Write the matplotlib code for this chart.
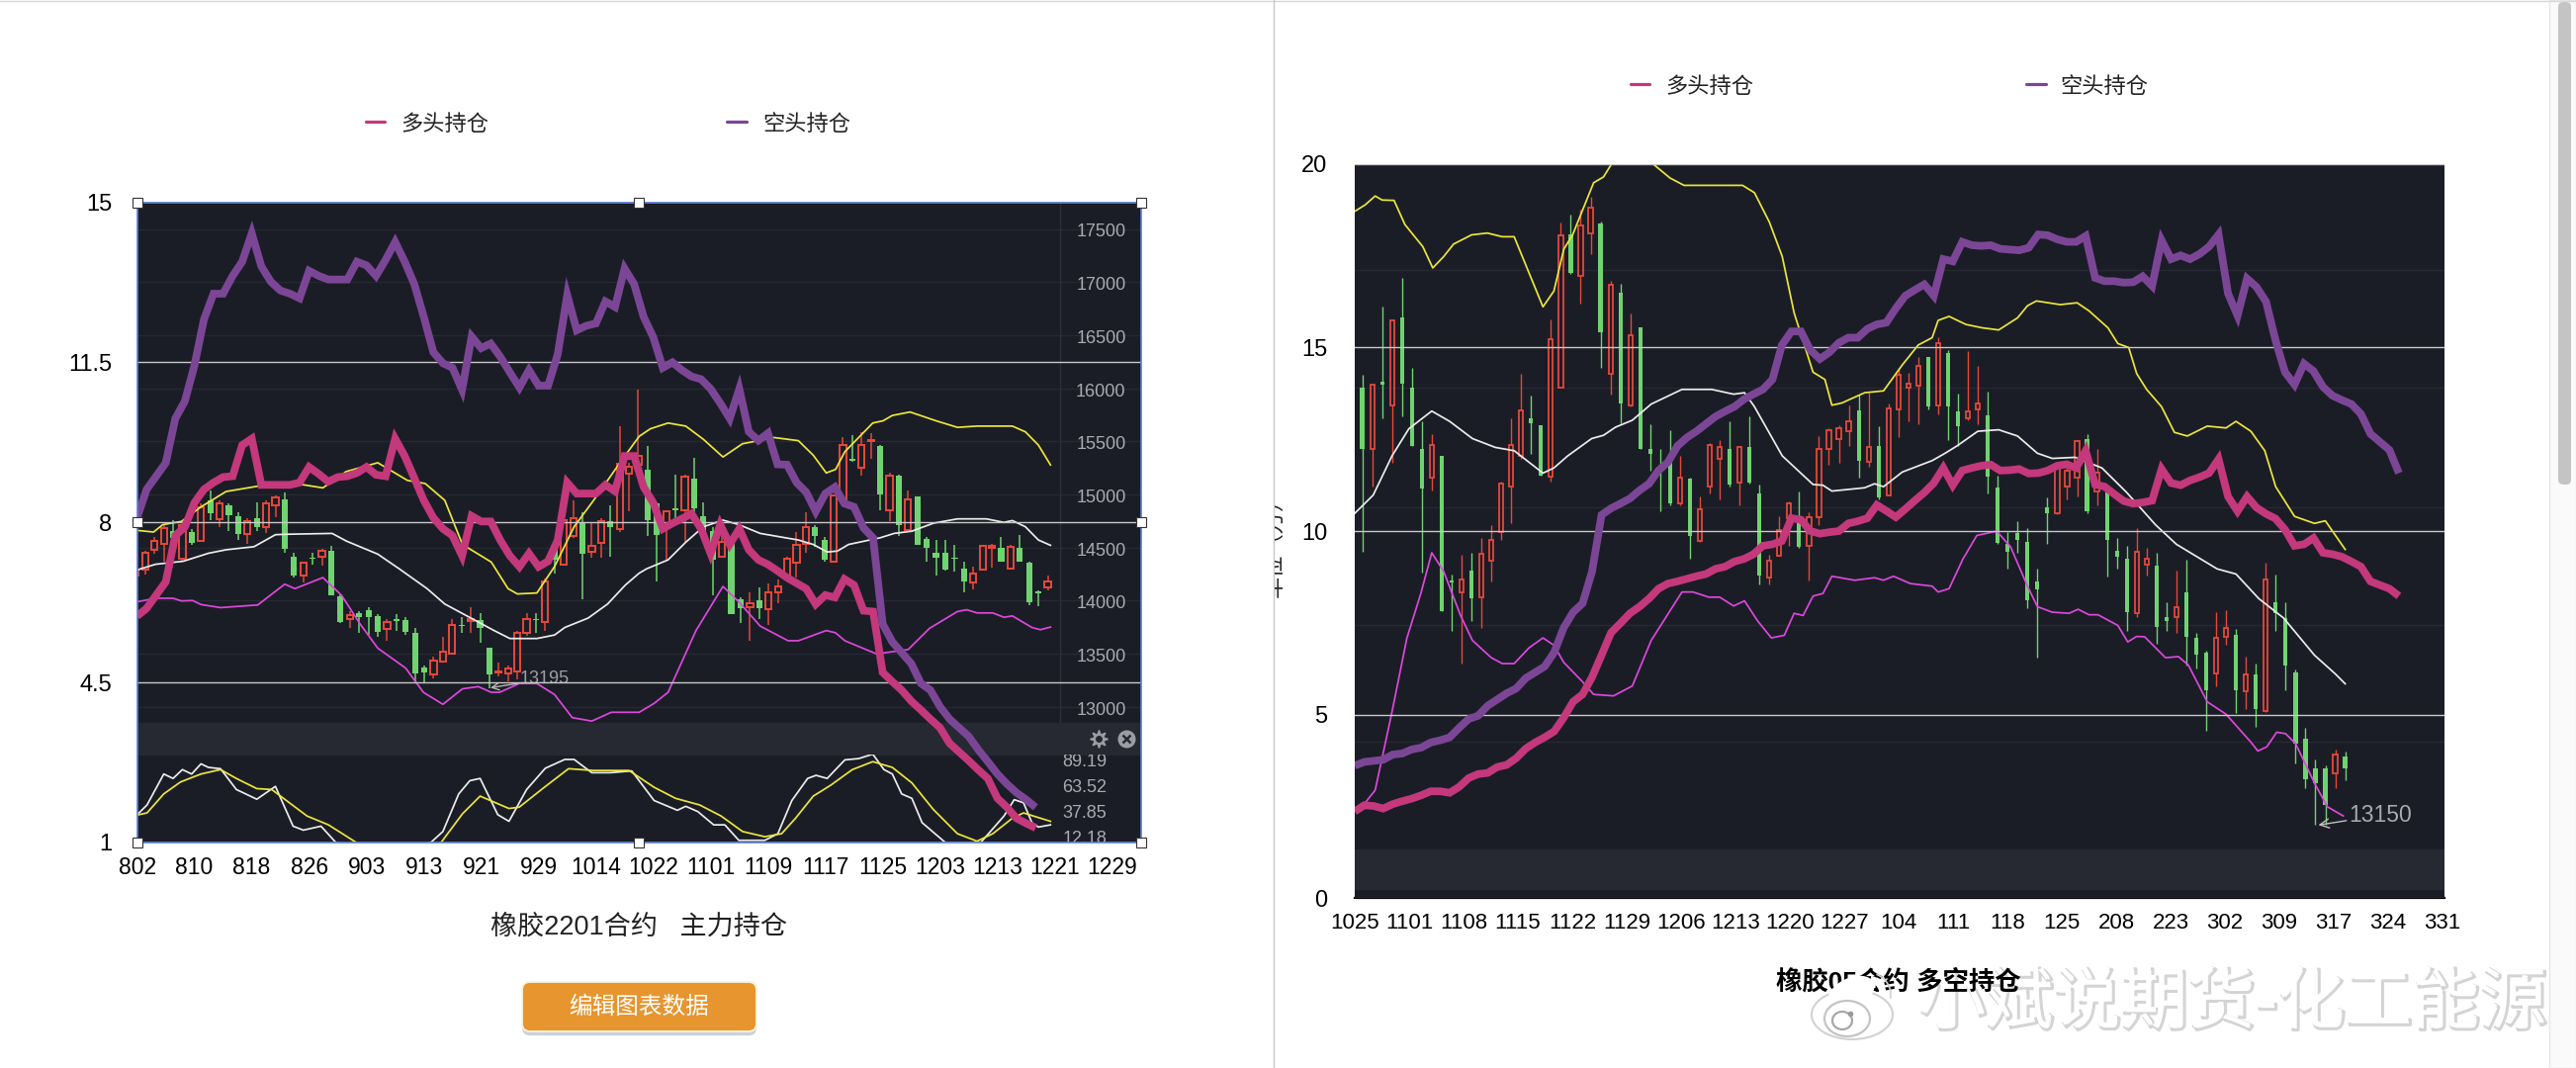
import numpy as np
import matplotlib
matplotlib.use("Agg")
import matplotlib.pyplot as plt
from matplotlib.patches import Arc, Ellipse, FancyBboxPatch, Rectangle
import matplotlib.patheffects as pe

plt.rcParams['font.family'] = ['Liberation Sans', 'Noto Sans CJK SC', 'DejaVu Sans']

W, H = 2605, 1080

# left chart: position lines (10k lots), one point per day
left_labels = ["802", "810", "818", "826", "903", "913", "921", "929", "1014", "1022",
               "1101", "1109", "1117", "1125", "1203", "1213", "1221", "1229"]
left_short = [8.10, 8.72, 9.01, 9.30, 10.27, 10.65, 11.43, 12.44, 13.00, 13.00, 13.39, 13.70, 14.32, 13.60, 13.26, 13.07,
              13.00, 12.90, 13.50, 13.39, 13.31, 13.31, 13.31, 13.70, 13.62, 13.39, 13.74, 14.13, 13.70, 13.21, 12.49, 11.72,
              11.48, 11.38, 10.90, 12.06, 11.81, 11.91, 11.62, 11.28, 10.95, 11.33, 10.99, 10.99, 11.67, 12.97, 12.20, 12.30,
              12.35, 12.83, 12.71, 13.55, 13.21, 12.49, 12.05, 11.38, 11.50, 11.33, 11.19, 11.13, 10.92, 10.61, 10.27, 10.92,
              9.98, 9.79, 9.95, 9.27, 9.26, 8.87, 8.66, 8.24, 8.63, 8.77, 8.41, 8.34, 7.88, 7.66, 5.78, 5.39, 5.15, 4.91,
              4.48, 4.33, 3.97, 3.70, 3.51, 3.32, 3.03, 2.77, 2.50, 2.28, 2.09, 1.94, 1.77]
left_long = [5.95, 6.12, 6.41, 6.70, 7.71, 7.90, 8.43, 8.72, 8.87, 8.99, 9.01, 9.69, 9.83, 8.82, 8.82, 8.82, 8.82, 8.87,
             9.21, 9.06, 8.89, 8.99, 9.01, 9.08, 9.21, 9.04, 9.01, 9.83, 9.45, 8.97, 8.48, 8.10, 7.86, 7.71, 7.27, 8.14,
             8.02, 8.02, 7.61, 7.27, 7.03, 7.32, 7.03, 7.15, 7.61, 8.87, 8.63, 8.63, 8.63, 8.82, 8.68, 9.45, 9.45, 8.77,
             8.43, 7.86, 7.98, 8.08, 8.19, 7.86, 7.32, 7.95, 7.52, 7.86, 7.40, 7.18, 7.08, 6.94, 6.79, 6.67, 6.55, 6.21,
             6.41, 6.36, 6.76, 6.63, 6.07, 6.05, 4.72, 4.52, 4.33, 4.09, 3.90, 3.70, 3.51, 3.17, 2.98, 2.79, 2.59, 2.40,
             1.97, 1.77, 1.53, 1.42, 1.32]

# left chart: candles behind the lines, in price
left_open = [14239, 14289, 14480, 14539, 14655, 14397, 14647, 14559, 14946, 14767, 14896, 14792, 14630, 14780, 14697, 14896,
             14959, 14418, 14239, 14405, 14414, 14468, 14043, 13831, 13885, 13915, 13852, 13736, 13823, 13819, 13698, 13374,
             13303, 13428, 13499, 13773, 13810, 13815, 13553, 13320, 13315, 13332, 13698, 13831, 13802, 14497, 14343, 14613,
             14730, 14459, 14547, 14747, 14676, 15196, 15279, 15237, 14913, 14697, 14871, 14855, 15154, 14792, 14655, 14414,
             14593, 14010, 13939, 14006, 13919, 14081, 14218, 14355, 14539, 14697, 14572, 14372, 14946, 15341, 15250, 15504,
             15454, 14855, 15175, 14663, 14979, 14580, 14455, 14447, 14405, 14306, 14168, 14293, 14497, 14497, 14301, 14497,
             14355, 14085, 14127]
left_close = [14289, 14455, 14563, 14688, 14593, 14713, 14547, 14884, 14821, 14913, 14809, 14630, 14747, 14697, 14917, 14975,
              14489, 14239, 14355, 14393, 14468, 14052, 13802, 13865, 13844, 13844, 13706, 13798, 13806, 13706, 13315, 13324,
              13436, 13523, 13773, 13761, 13831, 13748, 13303, 13332, 13357, 13698, 13831, 13819, 14177, 14385, 14759, 14780,
              14439, 14518, 14747, 14697, 15287, 15258, 15362, 14759, 14622, 14842, 14855, 15167, 14871, 14655, 14385, 14551,
              13873, 13927, 13977, 13927, 14081, 14135, 14393, 14530, 14697, 14613, 14385, 14988, 15466, 15321, 15466, 15516,
              15004, 15175, 14717, 14959, 14522, 14497, 14405, 14289, 14393, 14177, 14260, 14518, 14514, 14372, 14509, 14372,
              13989, 14073, 14181]
left_high = [14322, 14468, 14605, 14713, 14759, 14726, 14676, 14913, 15038, 14946, 14913, 14838, 14780, 14925, 14946, 14988,
             15017, 14455, 14372, 14455, 14489, 14518, 14064, 13898, 13898, 13939, 13873, 13823, 13873, 13844, 13748, 13390,
             13469, 13657, 13831, 13844, 13939, 13885, 13553, 13415, 13386, 13719, 13885, 13885, 14206, 14530, 14780, 14946,
             14834, 14730, 14780, 14896, 15645, 15300, 15986, 15454, 14925, 14842, 15187, 15187, 15350, 14925, 14697, 14738,
             14613, 14031, 14081, 14122, 14164, 14197, 14414, 14647, 14834, 14717, 14605, 14996, 15537, 15562, 15591, 15579,
             15466, 15204, 15187, 15042, 14979, 14605, 14572, 14572, 14522, 14364, 14322, 14530, 14539, 14605, 14522, 14622,
             14364, 14093, 14239]
left_low = [14189, 14247, 14439, 14372, 14530, 14380, 14530, 14551, 14759, 14697, 14655, 14572, 14539, 14655, 14634, 14788,
            14447, 14222, 14172, 14343, 14331, 14052, 13790, 13748, 13698, 13677, 13657, 13623, 13719, 13682, 13241, 13220,
            13270, 13415, 13490, 13698, 13698, 13607, 13178, 13291, 13241, 13261, 13665, 13698, 13719, 14260, 14331, 14593,
            14010, 14405, 14405, 14414, 14647, 14842, 15279, 14613, 14177, 14385, 14780, 14551, 14821, 14634, 14052, 14405,
            13873, 13790, 13627, 13831, 13773, 13981, 14218, 14218, 14455, 14509, 14372, 14364, 14938, 15312, 15175, 15341,
            14855, 14747, 14613, 14655, 14522, 14372, 14239, 14281, 14272, 14081, 14106, 14289, 14310, 14364, 14289, 14364,
            13956, 13948, 14102]

# left chart: bands on the candles, given at selected candles
left_upper_x = [0.1, 1.9, 2.9, 4.9, 7, 9.7, 13.1, 16.5, 20.1, 22.6, 26, 29.2, 31.1, 33.2, 35.1, 38.2, 40, 41, 43.1, 45, 47.1, 49.2,
                52.2, 54.1, 55.3, 57.2, 59.1, 61, 63.1, 65.2, 68.6, 71.2, 72.8, 74.2, 75.2, 76.2, 79.2, 80.3, 81.3, 83.2, 86,
                88.3, 90.4, 94.2, 95.6, 97, 98.3]
left_upper = [14663, 14647, 14717, 14747, 14884, 15029, 15079, 15113, 15063, 15217, 15300, 15133, 15104, 14946, 14530, 14364,
              14114, 14064, 14073, 14322, 14697, 14946, 15321, 15549, 15620, 15674, 15645, 15520, 15354, 15479, 15537, 15508,
              15371, 15204, 15237, 15404, 15674, 15695, 15745, 15778, 15695, 15633, 15645, 15645, 15591, 15466, 15279]
left_mid_x = [0.1, 2.1, 5.1, 7.8, 9.7, 12.7, 15, 16.1, 21.1, 22.6, 26, 28.3, 31.3, 33.2, 36.3, 38.5, 40.2, 43.1, 45, 46.1, 48.6,
              50.7, 52.6, 54.1, 54.9, 57.2, 59.1, 61, 63.1, 64.8, 67.1, 71.2, 72.8, 74.3, 75.4, 76.6, 80, 81.5, 83.4, 85.7,
              88.3, 91.4, 93.3, 94.2, 95.6, 97, 98.3]
left_mid = [14289, 14343, 14372, 14447, 14480, 14509, 14622, 14626, 14634, 14563, 14439, 14301, 14114, 13969, 13823, 13719,
            13644, 13644, 13677, 13748, 13836, 13969, 14147, 14260, 14301, 14385, 14551, 14697, 14759, 14717, 14634, 14572,
            14530, 14459, 14468, 14530, 14593, 14634, 14655, 14730, 14771, 14771, 14738, 14755, 14697, 14572, 14522]
left_lower_x = [0.1, 2.1, 4, 4.9, 6.1, 7, 9.1, 13.1, 16, 17.1, 20.1, 22.1, 24.1, 26, 29, 30.9, 33, 35.1, 36.8, 38.2, 39.1, 41.2,
                43.1, 45, 46.9, 49, 51.1, 54.1, 55.7, 57.2, 60.2, 63.1, 64.8, 67.1, 70.1, 71.2, 74.2, 75.2, 76.2, 79.6, 83,
                85.3, 88.3, 89.3, 90.4, 92.1, 93.3, 94.2, 96.3, 97.2, 98.3]
left_lower = [13989, 14023, 14023, 13998, 14002, 13964, 13935, 13960, 14156, 14114, 14218, 14052, 13781, 13553, 13365, 13137,
              13024, 13170, 13191, 13137, 13137, 13220, 13220, 13116, 12899, 12866, 12949, 12949, 13033, 13137, 13719, 14135,
              13989, 13761, 13623, 13623, 13719, 13698, 13623, 13499, 13540, 13740, 13898, 13915, 13885, 13885, 13844, 13857,
              13748, 13727, 13752]
price_ticks = [17500, 17000, 16500, 16000, 15500, 15000, 14500, 14000, 13500, 13000]

# left chart: the small oscillator pane
kdj_k_x = [0.1, 1.2, 3, 4, 5, 6, 7, 7.8, 9.1, 10.8, 13, 15, 16.9, 18, 19.9, 21.5, 26.6, 31.7, 33, 34.7, 35.9, 37, 38.9, 40.1, 42,
           44, 46.1, 47.1, 49, 51, 53.3, 55.7, 58.2, 59.1, 60.4, 62.1, 63.3, 64.8, 67.6, 69, 70.5, 72.2, 73.1, 74.3, 76.2,
           77.7, 79.2, 80.4, 81.3, 82.3, 83.4, 84.5, 87, 90.8, 93.3, 94.4, 95.4, 96.3, 97, 98.3]
kdj_k = [35.95, 46.07, 76.87, 72.47, 81.27, 76.87, 87, 83.47, 82.15, 61.47, 51.79, 64.55, 24.95, 21, 24.95, 8.67, 0, 8.67, 19.67,
         57.07, 70.27, 72.47, 36.39, 29.79, 61.47, 82.59, 91.39, 91.39, 78.19, 78.19, 79.95, 50.47, 40.79, 44.75, 39.47,
         26.27, 26.27, 10.87, 10.87, 17.47, 50.47, 72.47, 75.55, 72.47, 90.95, 92.27, 96.67, 81.27, 76.87, 57.07, 52.67,
         28.47, 8.67, 8.67, 35.07, 51.35, 48.27, 28.47, 24.07, 26.27]
kdj_d_x = [0.1, 1.2, 3, 4.8, 7, 9.1, 10.8, 13, 14.6, 16.5, 18.4, 20.7, 23.7, 28, 32.8, 35.1, 37, 40.1, 41.2, 43.9, 46.5, 49.2, 53,
           55.7, 58, 60.6, 62.9, 65.2, 67.6, 69.4, 70.9, 72.8, 74.7, 77, 79.2, 81.3, 83.4, 85.7, 88.3, 90.4, 92.1, 94.2, 95.4, 98.3]
kdj_d = [35.95, 38.15, 57.07, 68.95, 76.87, 81.27, 72.47, 62.35, 61.47, 48.27, 35.07, 26.27, 8.67, 0, 8.67, 37.27, 54.87, 42.55,
         43.87, 63.67, 82.15, 80.39, 80.39, 63.67, 52.67, 46.07, 35.07, 19.67, 14.47, 17.47, 32.87, 54.87, 65.87, 81.27,
         89.19, 83.47, 68.07, 41.67, 17.47, 10, 17.47, 32.87, 38.15, 29.79]
kdj_labels = [89.19, 63.52, 37.85, 12.18]

# right chart: position lines (10k lots)
right_labels = ["1025", "1101", "1108", "1115", "1122", "1129", "1206", "1213", "1220", "1227", "104",
                "111", "118", "125", "208", "223", "302", "309", "317", "324", "331"]
right_short = [3.61, 3.71, 3.74, 3.77, 3.91, 3.94, 4.05, 4.10, 4.24, 4.30, 4.38, 4.64, 4.88, 4.97, 5.24, 5.41, 5.58, 5.71, 5.99,
               6.15, 6.31, 6.69, 7.36, 7.79, 8.03, 8.90, 10.44, 10.62, 10.75, 10.89, 11.11, 11.29, 11.65, 11.88, 12.32, 12.55,
               12.72, 12.92, 13.12, 13.26, 13.39, 13.59, 13.73, 13.86, 14.13, 15.07, 15.44, 15.44, 14.93, 14.69, 14.87, 15.13,
               15.27, 15.27, 15.51, 15.63, 15.68, 16.07, 16.41, 16.57, 16.72, 16.41, 17.41, 17.35, 17.88, 17.79, 17.77, 17.79,
               17.69, 17.67, 17.65, 17.72, 18.08, 18.06, 17.95, 17.88, 17.88, 18.04, 16.90, 16.81, 16.81, 16.77, 16.78, 16.94,
               16.68, 17.92, 17.41, 17.51, 17.41, 17.55, 17.75, 18.08, 16.47, 15.87, 16.88, 16.65, 16.25, 15.20, 14.33, 13.99,
               14.56, 14.36, 13.93, 13.69, 13.57, 13.46, 13.19, 12.65, 12.43, 12.21, 11.58]
right_long = [2.36, 2.53, 2.51, 2.44, 2.56, 2.64, 2.71, 2.80, 2.91, 2.91, 2.87, 3.03, 3.27, 3.38, 3.41, 3.57, 3.63, 3.81, 4.07,
              4.24, 4.38, 4.54, 4.91, 5.35, 5.55, 6.02, 6.62, 7.23, 7.49, 7.76, 7.94, 8.16, 8.43, 8.57, 8.63, 8.70, 8.77, 8.83,
              8.97, 9.03, 9.17, 9.24, 9.37, 9.60, 9.64, 9.73, 10.35, 10.31, 10.00, 9.93, 9.97, 10.00, 10.21, 10.27, 10.35, 10.71,
              10.55, 10.38, 10.60, 10.83, 11.05, 11.31, 11.72, 11.25, 11.65, 11.72, 11.78, 11.81, 11.65, 11.66, 11.69, 11.57,
              11.58, 11.65, 11.78, 11.82, 11.72, 12.19, 11.27, 11.21, 11.01, 10.82, 10.75, 10.78, 10.83, 11.69, 11.31, 11.25,
              11.38, 11.47, 11.58, 11.96, 10.94, 10.54, 10.94, 10.64, 10.47, 10.34, 10.04, 9.60, 9.64, 9.81, 9.41, 9.37, 9.30,
              9.17, 9.03, 8.63, 8.53, 8.43, 8.23]

# right chart: candles, no price scale visible so kept on the chart's own scale
right_open = [13.90, 12.25, 14.06, 13.43, 15.83, 13.90, 12.25, 11.45, 12.05, 8.66, 8.32, 8.93, 8.20, 9.20, 9.97, 11.21, 12.05, 13.06,
              12.88, 11.47, 13.90, 18.08, 16.94, 18.11, 18.39, 14.29, 16.50, 13.42, 15.56, 12.25, 11.72, 11.98, 10.75, 11.42,
              9.73, 11.21, 11.96, 12.25, 11.31, 12.28, 11.02, 8.74, 9.33, 10.35, 10.40, 9.60, 10.38, 12.25, 12.52, 12.72, 13.30,
              11.89, 12.32, 10.98, 13.32, 13.90, 13.97, 14.73, 13.43, 14.84, 13.26, 13.06, 13.32, 13.16, 11.18, 9.64, 9.95, 9.70,
              8.63, 10.64, 10.48, 11.21, 11.45, 12.52, 11.09, 11.05, 9.46, 9.26, 7.76, 9.08, 9.06, 7.65, 7.65, 8.32, 7.09, 6.70,
              6.11, 7.13, 7.16, 5.64, 6.09, 5.11, 8.07, 7.63, 6.15, 4.34, 3.54, 3.54, 3.41, 3.87]
right_close = [12.23, 13.98, 13.99, 15.74, 14.02, 12.32, 11.15, 12.35, 7.83, 8.61, 8.67, 8.18, 9.37, 9.77, 11.29, 12.35, 13.28, 12.95,
               11.51, 15.23, 18.06, 17.04, 18.32, 18.82, 15.43, 16.72, 13.49, 15.33, 12.25, 12.09, 11.65, 10.75, 11.45, 9.88,
               10.60, 12.35, 12.29, 11.27, 12.29, 11.31, 8.79, 9.20, 10.04, 10.75, 9.57, 10.38, 12.25, 12.75, 12.79, 12.99, 11.92,
               12.29, 10.91, 13.35, 14.26, 14.02, 14.50, 13.39, 15.13, 13.39, 12.86, 13.26, 13.47, 11.47, 9.68, 9.44, 9.77, 8.12,
               8.41, 10.48, 11.72, 11.65, 12.45, 10.54, 11.58, 9.77, 9.30, 7.79, 9.44, 9.24, 7.40, 7.56, 7.92, 7.13, 6.62, 5.66,
               7.09, 7.36, 5.66, 6.09, 5.15, 8.67, 7.76, 6.33, 4.21, 3.24, 3.14, 2.53, 3.90, 3.54]
right_high = [14.26, 13.99, 16.11, 15.76, 16.90, 14.44, 12.99, 12.65, 12.05, 8.82, 9.36, 9.40, 9.80, 10.17, 11.34, 13.08, 14.29, 13.69,
              12.88, 15.76, 18.42, 18.62, 18.75, 19.12, 18.44, 16.81, 16.74, 15.94, 15.56, 12.90, 12.25, 12.75, 12.05, 11.45,
              10.94, 12.39, 12.48, 12.99, 12.32, 13.12, 11.26, 9.36, 10.40, 10.80, 11.07, 10.51, 12.59, 12.79, 12.88, 13.43, 13.73,
              13.77, 12.85, 13.49, 14.46, 14.32, 14.73, 14.73, 15.27, 14.93, 13.75, 14.91, 14.50, 13.79, 11.51, 9.97, 10.27, 10.08,
              8.97, 10.91, 11.78, 11.85, 12.49, 12.65, 12.23, 11.11, 9.80, 9.60, 10.08, 9.54, 9.40, 8.07, 8.93, 9.22, 7.23, 6.73,
              7.80, 7.85, 7.33, 6.59, 6.38, 9.14, 8.81, 8.07, 6.22, 4.65, 3.77, 3.61, 4.05, 3.99]
right_low = [9.44, 11.21, 13.06, 11.85, 13.12, 12.32, 8.87, 11.11, 7.83, 7.29, 6.39, 7.56, 7.36, 8.63, 9.75, 10.21, 11.96, 12.09, 11.51,
             11.35, 13.90, 17.01, 16.21, 17.55, 14.46, 13.73, 12.95, 13.39, 12.23, 11.65, 10.55, 10.71, 10.71, 9.24, 9.70, 11.02,
             10.86, 11.21, 10.70, 11.29, 8.55, 8.55, 9.33, 9.60, 9.54, 8.66, 10.17, 11.82, 11.85, 12.32, 11.45, 11.74, 10.87,
             10.97, 12.55, 12.99, 12.92, 13.32, 13.19, 12.49, 12.32, 13.03, 12.92, 11.02, 9.64, 8.97, 9.41, 7.89, 6.56, 9.66,
             10.46, 10.87, 10.94, 10.48, 10.71, 8.77, 8.97, 7.29, 7.65, 8.79, 6.92, 7.29, 7.23, 6.35, 6.25, 4.57, 5.78, 6.89,
             5.05, 5.15, 4.68, 5.08, 7.29, 5.66, 3.67, 3.00, 1.99, 1.99, 3.00, 3.20]

right_upper_x = [-0.77, 0.3, 1.3, 2, 3.2, 4.3, 6.1, 7.1, 8.2, 9.2, 11, 12.6, 14.1, 15.3, 18.2, 19.3, 20.3, 21.2, 23.3, 24.3, 25.1, 27.2,
                 29.3, 31, 32.4, 38.3, 39.5, 41, 42.3, 43.5, 45.4, 46.6, 47.3, 48.3, 50.6, 52.5, 54.4, 56, 57.4, 58, 59.1, 60.8,
                 62.4, 64.1, 66, 67, 67.9, 70.3, 72, 73.2, 75.1, 76.1, 77.2, 78, 79, 80.5, 81.8, 83.1, 85.1, 87, 88, 89.5, 90.9,
                 92, 93.9, 95.9, 97, 99]
right_upper = [18.71, 18.89, 19.13, 19.02, 19.01, 18.35, 17.75, 17.17, 17.48, 17.82, 18.07, 18.12, 18.02, 18.02, 16.11, 16.54, 17.68,
               18.08, 19.49, 19.65, 20.0, 20.6, 20.0, 19.62, 19.42, 19.42, 19.22, 18.42, 17.48, 15.94, 14.33, 14.13, 13.43, 13.49,
               13.77, 13.82, 14.53, 15.07, 15.27, 15.74, 15.85, 15.63, 15.54, 15.48, 15.81, 16.14, 16.27, 16.17, 16.22, 16.0, 15.54,
               15.11, 15.0, 14.29, 13.86, 13.39, 12.69, 12.59, 12.86, 12.81, 12.99, 12.72, 12.19, 11.21, 10.40, 10.21, 10.28, 9.50]
right_mid_x = [-0.77, 1.1, 3, 4.7, 7, 8.8, 11.1, 13.4, 15.3, 18.2, 19.3, 20.7, 23.1, 24.3, 25.5, 27.2, 29.1, 32.2, 35.2, 37.4, 38.5, 39.5,
               42.3, 45.4, 46.4, 47.3, 50.6, 51.6, 52.5, 54.4, 57.4, 58.7, 59.9, 62, 64.1, 66, 68, 69.5, 71.8, 74.5, 77, 79.9, 82,
               86.1, 88, 90.3, 92.8, 95.9, 98, 99]
right_mid = [10.48, 10.98, 12.05, 12.79, 13.27, 12.99, 12.52, 12.28, 12.19, 11.58, 11.72, 12.05, 12.52, 12.61, 12.83, 13.02, 13.46, 13.86,
             13.86, 13.73, 13.77, 13.39, 12.05, 11.27, 11.25, 11.09, 11.18, 11.29, 11.21, 11.61, 11.92, 12.12, 12.32, 12.72, 12.76,
             12.59, 12.12, 11.98, 12.01, 11.72, 11.05, 10.17, 9.64, 8.97, 8.83, 8.16, 7.63, 6.62, 6.11, 5.84]
right_lower_x = [-0.77, 0.3, 1.3, 2.2, 3, 4.5, 5.9, 7, 8.2, 9.9, 11.1, 13, 14.1, 15.3, 16.8, 18.2, 19.3, 20.3, 22.2, 23.3, 25.3, 27.2, 29.1,
                 32.2, 33.3, 34.9, 36, 37.4, 38.5, 39.8, 41.2, 42.5, 43.5, 44.4, 45.4, 46.4, 47.3, 49.6, 51.6, 52.5, 53.5, 55.2, 57.4,
                 58, 59.1, 60.5, 61.9, 63.9, 65.3, 67, 68, 69.5, 71.2, 72.1, 73.2, 74.1, 76.1, 77.1, 78, 78.8, 80.9, 82.2, 83.2,
                 85.1, 87, 89.5, 90.2, 91.1, 92.1, 93, 94, 95.9, 97.2, 98.8]
right_lower = [2.40, 2.60, 2.94, 4.07, 5.08, 7.09, 8.30, 9.41, 8.90, 7.70, 7.02, 6.55, 6.39, 6.39, 6.82, 7.09, 6.89, 6.42, 5.89, 5.55, 5.51,
               5.78, 7.02, 8.34, 8.34, 8.20, 8.20, 7.96, 8.10, 7.56, 7.09, 7.16, 7.76, 7.70, 8.23, 8.30, 8.77, 8.66, 8.73, 8.66, 8.77,
               8.57, 8.50, 8.34, 8.43, 9.24, 9.88, 10.0, 9.57, 8.50, 7.94, 7.79, 7.76, 7.87, 7.72, 7.72, 7.43, 6.98, 7.13, 7.12, 6.55,
               6.58, 6.35, 5.35, 5.01, 4.25, 4.01, 4.12, 4.52, 4.48, 4.21, 3.14, 2.49, 2.24]
right_faint = [17.12, 13.90, 10.64, 7.45, 4.27]

BG = '#1b1d26'
STRIP = '#262832'
FAINT = '#272932'
RED = '#e5483a'
GREEN = '#6fd46f'
YELLOW = '#ece63c'
WHITE = '#ececec'
MAGENTA = '#dc48dc'
PINK = '#c4387c'
PURPLE = '#7c4696'
GRID = '#c9c9c9'
PRICE_TEXT = '#a9abb1'


def make_axes(fig, x0, y0, x1, y1, zorder):
    # rectangle given in image pixels, y going down
    ax = fig.add_axes([x0 / W, 1 - y1 / H, (x1 - x0) / W, (y1 - y0) / H], zorder=zorder)
    return ax


def plot_candles(ax, op, cl, hi, lo, width, lw):
    op, cl, hi, lo = map(np.array, (op, cl, hi, lo))
    x = np.arange(len(op))
    up = cl >= op
    top = np.maximum(op, cl)
    bot = np.minimum(op, cl)
    ax.vlines(x[~up], lo[~up], hi[~up], color=GREEN, lw=lw, zorder=3)
    ax.bar(x[~up], (top - bot)[~up], bottom=bot[~up], width=width, color=GREEN, zorder=3)
    # up candles are hollow, wick stops at the body
    ax.vlines(x[up], top[up], hi[up], color=RED, lw=lw, zorder=3)
    ax.vlines(x[up], lo[up], bot[up], color=RED, lw=lw, zorder=3)
    ax.bar(x[up], (top - bot)[up], bottom=bot[up], width=width, facecolor='none', edgecolor=RED, linewidth=lw * 1.3, zorder=3)


def style_position_axes(ax, xticks, xlabels, yticks, ylabels, xlim, ylim, fs_x, pad_x, pad_y):
    ax.patch.set_alpha(0)
    ax.set_xlim(*xlim)
    ax.set_ylim(*ylim)
    for s in ax.spines.values():
        s.set_visible(False)
    ax.set_xticks(xticks)
    ax.set_xticklabels(xlabels, fontsize=fs_x, color='black')
    ax.set_yticks(yticks)
    ax.set_yticklabels(ylabels, fontsize=17, color='black')
    ax.tick_params(axis='both', length=0)
    ax.tick_params(axis='x', pad=pad_x)
    ax.tick_params(axis='y', pad=pad_y)
    ax.grid(axis='y', color=GRID, lw=1.0)
    ax.set_axisbelow(True)


def thick_lines(ax, short, long):
    x = np.arange(len(short))
    ax.plot(x, short, color=PURPLE, lw=5.6, solid_joinstyle='miter', solid_capstyle='butt', zorder=4)
    ax.plot(np.arange(len(long)), long, color=PINK, lw=5.6, solid_joinstyle='miter', solid_capstyle='butt', zorder=5)


fig = plt.figure(figsize=(W / 100, H / 100), dpi=100, facecolor='white')

# ---- left chart
LX0, LX1, LY0, LY1 = 138.6, 1153.6, 204.5, 852
ax_price = make_axes(fig, LX0, LY0, LX1, LY1, 1)
ax_price.set_facecolor(BG)
ax_price.set_xlim(0.13, 108)
ax_price.set_ylim(11722, 17754)
ax_price.set_xticks([])
ax_price.set_yticks([])
for s in ax_price.spines.values():
    s.set_visible(False)
for p in price_ticks:
    ax_price.axhline(p, color=FAINT, lw=1, zorder=1)
    ax_price.text(106.4, p - 30, str(p), color=PRICE_TEXT, fontsize=13, ha='right', va='center', zorder=6)
ax_price.axhspan(12554, 12845, color=STRIP, zorder=1)
ax_price.vlines(99.3, 12845, 17754, color='#2c2e38', lw=1, zorder=1)
plot_candles(ax_price, left_open, left_close, left_high, left_low, 0.66, 1.1)
ax_price.plot(left_upper_x, left_upper, color=YELLOW, lw=1.25, zorder=4)
ax_price.plot(left_mid_x, left_mid, color=WHITE, lw=1.25, zorder=4)
ax_price.plot(left_lower_x, left_lower, color=MAGENTA, lw=1.25, zorder=4)
ax_price.annotate('13195', xy=(38.1, 13180), xytext=(41.3, 13261), color='#9d9fa5', fontsize=13, va='center',
                  arrowprops=dict(arrowstyle='->', color='#b8b8b8', lw=1, shrinkA=0, shrinkB=0), zorder=6)

ax_kdj = make_axes(fig, LX0, 762.6, LX1, LY1, 2)
ax_kdj.patch.set_alpha(0)
ax_kdj.set_xlim(0.13, 108)
ax_kdj.set_ylim(8.67, 96.67)
ax_kdj.set_xticks([])
ax_kdj.set_yticks([])
for s in ax_kdj.spines.values():
    s.set_visible(False)
ax_kdj.plot(kdj_k_x, kdj_k, color=WHITE, lw=1.25)
ax_kdj.plot(kdj_d_x, kdj_d, color=YELLOW, lw=1.25)
for v in kdj_labels:
    ax_kdj.text(99.6, v, f'{v:.2f}', color=PRICE_TEXT, fontsize=13, va='center', clip_on=True)

ax_left = make_axes(fig, LX0, LY0, LX1, LY1, 3)
style_position_axes(ax_left, np.arange(len(left_labels)) * 6, left_labels, [1, 4.5, 8, 11.5, 15],
                    ['1', '4.5', '8', '11.5', '15'], (0, 105), (1, 15), 16.5, 10, 18)
thick_lines(ax_left, left_short, left_long)

# ---- right chart
RX0, RX1, RY0, RY1 = 1370, 2472, 165.9, 908.2
ax_candle = make_axes(fig, RX0, RY0, RX1, RY1, 1)
ax_candle.set_facecolor(BG)
ax_candle.set_xlim(-0.757, 109)
ax_candle.set_ylim(0, 20)
ax_candle.set_xticks([])
ax_candle.set_yticks([])
for name, s in ax_candle.spines.items():
    s.set_visible(name == 'bottom')
ax_candle.spines['bottom'].set_color('black')
ax_candle.spines['bottom'].set_linewidth(1.6)
for v in right_faint:
    ax_candle.axhline(v, color=FAINT, lw=1, zorder=1)
ax_candle.axhspan(0.25, 1.33, color=STRIP, zorder=1)
plot_candles(ax_candle, right_open, right_close, right_high, right_low, 0.42, 1.0)
ax_candle.plot(right_upper_x, right_upper, color=YELLOW, lw=1.25, zorder=4)
ax_candle.plot(right_mid_x, right_mid, color=WHITE, lw=1.25, zorder=4)
ax_candle.plot(right_lower_x, right_lower, color=MAGENTA, lw=1.25, zorder=4)
ax_candle.annotate('13150', xy=(96.3, 1.99), xytext=(99.4, 2.26), color='#a9abb1', fontsize=16.5, va='center',
                   arrowprops=dict(arrowstyle='->', color='#c0c0c0', lw=1, shrinkA=0, shrinkB=0), zorder=6)

ax_right = make_axes(fig, RX0, RY0, RX1, RY1, 3)
style_position_axes(ax_right, np.arange(len(right_labels)) * 55 / 9.6, right_labels, [0, 5, 10, 15, 20],
                    ['0', '5', '10', '15', '20'], (0, 114.8), (0, 20), 16, 11, 20)
thick_lines(ax_right, right_short, right_long)

# ---- page around the charts, drawn in image pixels
page = fig.add_axes([0, 0, 1, 1], zorder=5)
page.set_xlim(0, W)
page.set_ylim(H, 0)
page.axis('off')
page.patch.set_alpha(0)

page.plot([0, W], [0.5, 0.5], color='#d8d8d8', lw=1)
page.plot([1288, 1288], [0, H], color='#c8c8c8', lw=1)
page.add_patch(Rectangle((2578, 0), 27, H, facecolor='#fafafa', edgecolor='#e6e6e6', lw=1))
page.add_patch(FancyBboxPatch((2589, 4), 9, 484, boxstyle='round,pad=2,rounding_size=5', facecolor='#c4c4c4', edgecolor='none'))

# blue selection frame and its handles
page.add_patch(Rectangle((LX0, LY0), LX1 - LX0, LY1 - LY0, fill=False, edgecolor='#5a7fd6', lw=1.2))
mx, my = (LX0 + LX1) / 2, (LY0 + LY1) / 2
for hx, hy in [(LX0, LY0), (mx, LY0), (LX1, LY0), (LX0, my), (LX1, my), (LX0, LY1), (mx, LY1), (LX1, LY1)]:
    page.plot(hx, hy, 's', ms=6.5, mfc='white', mec='#333333', mew=0.8)

# settings and close icons in the strip
page.plot(1111, 747, marker=(8, 1, 0), ms=13, color='#9c9ea4')
page.plot(1111, 747, 'o', ms=4, color=STRIP)
page.plot(1139, 747, 'o', ms=12, color='#9c9ea4')
page.plot(1139, 747, 'x', ms=6, mew=1.8, color=STRIP)

# legends
for xa, xb, y, tx, c, name in [(369, 390, 123, 405, PINK, '多头持仓'), (734, 756, 123, 771, PURPLE, '空头持仓'),
                               (1648, 1669, 85, 1684, PINK, '多头持仓'), (2048, 2070, 85, 2083, PURPLE, '空头持仓')]:
    page.plot([xa + 1, xb - 1], [y, y], color=c, lw=2.3, solid_capstyle='round')
    page.text(tx, y + 3, name, fontsize=16, color='#222222', va='center')

# chart titles and the edit button
page.text(646, 938, '橡胶2201合约   主力持仓', fontsize=19.5, color='#222222', ha='center', va='center')
page.add_patch(FancyBboxPatch((530, 995), 233, 46, boxstyle='round,pad=2,rounding_size=8', facecolor='#e6952f',
                              edgecolor='#fdf1d6', lw=1.4,
                              path_effects=[pe.withSimplePatchShadow(offset=(0, -3), shadow_rgbFace='#8c9bb0', alpha=0.45)]))
page.text(646, 1019, '编辑图表数据', fontsize=17, color='white', ha='center', va='center')

# rotated axis name, cut off by the divider on its left
ylab = page.text(1289, 548, '单位（万）', fontsize=16, rotation=90, color='#222222', ha='center', va='center')
ylab.set_clip_on(True)
ylab.set_clip_path(Rectangle((1289, 440), 30, 220, transform=page.transData))

# weibo watermark: the text goes under the title, the logo over it
shadow = [pe.withStroke(linewidth=2.2, foreground='#d4d4d4', offset=(1.5, -1.5))]
page.text(2257, 1016, '小斌说期货-化工能源', fontsize=49, color='white', ha='center', va='center', path_effects=shadow, zorder=5)
page.text(1920, 993, '橡胶05合约 多空持仓', fontsize=19, fontweight='bold', color='black', ha='center', va='center', zorder=6)
page.add_patch(Ellipse((1873, 1026), 82, 50, facecolor='white', edgecolor='#d2d2d2', lw=1.5, zorder=7))
page.add_patch(Ellipse((1872, 1004), 50, 30, angle=-25, facecolor='white', edgecolor='none', zorder=7.1))
page.add_patch(Ellipse((1868, 1030), 46, 36, facecolor='white', edgecolor='#c4c4c4', lw=1.6, zorder=7.2))
page.add_patch(Ellipse((1863, 1032), 20, 18, facecolor='white', edgecolor='#a8a8a8', lw=1.6, zorder=7.3))
page.plot(1871, 1025, 'o', ms=3, color='#9a9a9a', zorder=7.4)
page.add_patch(Arc((1890, 1006), 44, 44, theta1=-70, theta2=10, color='#d2d2d2', lw=1.2, zorder=7.5))
page.add_patch(Arc((1889, 1005), 30, 30, theta1=-80, theta2=0, color='white', lw=5, zorder=7.6))

fig.savefig('out.png', dpi=100, facecolor='white')
